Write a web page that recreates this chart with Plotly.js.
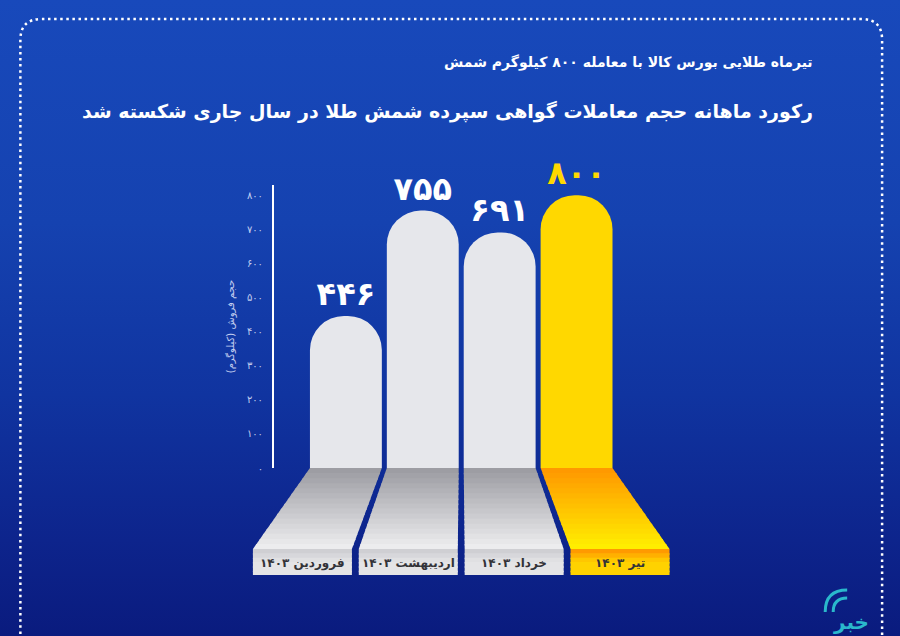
<!DOCTYPE html>
<html>
<head>
<meta charset="utf-8">
<script src="https://cdn.plot.ly/plotly-3.0.1.min.js"></script>
<style>
  html, body { margin: 0; padding: 0; }
  body {
    width: 900px; height: 636px; overflow: hidden;
    background: linear-gradient(180deg, #1849bb 0%, #1542b0 35%, #1034a0 62%, #0d248c 85%, #0a1b7e 100%);
  }
  #chart { width: 900px; height: 636px; }
</style>
</head>
<body>
<div id="chart"></div>
<script>
// ---- data ----
const months = ['فروردین', 'اردیبهشت', 'خرداد', 'تیر'];
const year = 1403;
const volumes = [446, 755, 691, 800];
const yTicks = [0, 100, 200, 300, 400, 500, 600, 700, 800];
const titleLine1 = 'تیرماه طلایی بورس کالا با معامله ۸۰۰ کیلوگرم شمش';
const titleLine2 = 'رکورد ماهانه حجم معاملات گواهی سپرده شمش طلا در سال جاری شکسته شد';
const yTitle = 'حجم فروش (کیلوگرم)\u200F';
const highlightIndex = 3;

// ---- helpers ----
const FA = '۰۱۲۳۴۵۶۷۸۹';
const fa = n => String(n).replace(/\d/g, d => FA[d]);
const FONT = 'DejaVu Sans, Noto Sans, sans-serif';

// ---- geometry ----
const W = 900, H = 636;
const ML = 274, MR = 284.5, MT = 185, MB = 168;
const PW = W - ML - MR, PH = H - MT - MB;
const BARW = 0.935;
const XR = [-0.935, 3.5];
const YR = [0, 830];
const pxPerUnit = PW / (XR[1] - XR[0]);
const catPx = i => ML + (i - XR[0]) * pxPerUnit;
const px2x = p => (p - ML) / PW;
const py2y = p => (H - MB - p) / PH;

const n = months.length;
const centers = months.map((_, i) => catPx(i));
const mid = centers.reduce((a, b) => a + b, 0) / n;
const halfBar = BARW * pxPerUnit / 2;
const persp = 1.377;
const baseY = H - MB;        // bar base (px)
const floorY = baseY + 81;   // bottom of floor trapezoid
const boxY2 = floorY + 26;   // bottom of label box

function lerpColor(a, b, t) {
  const pa = a.match(/\w\w/g).map(h => parseInt(h, 16));
  const pb = b.match(/\w\w/g).map(h => parseInt(h, 16));
  const c = pa.map((v, k) => Math.round(v + (pb[k] - v) * t));
  return 'rgb(' + c.join(',') + ')';
}

const shapes = [];
const annotations = [];
const STRIPS = 16;

months.forEach((m, i) => {
  const hi = i === highlightIndex;
  const cTop = centers[i];
  const cBot = mid + (cTop - mid) * persp;
  const hwTop = halfBar, hwBot = halfBar * persp;
  const c0 = hi ? 'ff9600' : '9a9aa0';
  const c1 = hi ? 'fff000' : 'efeff1';
  const span = floorY - baseY;
  const geo = t => ({ c: cTop + (cBot - cTop) * t, h: hwTop + (hwBot - hwTop) * t, y: baseY + span * t });
  for (let s = 0; s < STRIPS; s++) {
    const t0 = s / STRIPS;
    const t1 = Math.min(1, (s + 1) / STRIPS + 1.5 / span);
    const A = geo(t0), B = geo(t1);
    shapes.push({
      type: 'path', xref: 'paper', yref: 'paper', layer: 'below',
      path: `M ${px2x(A.c - A.h)} ${py2y(A.y)} L ${px2x(A.c + A.h)} ${py2y(A.y)} L ${px2x(B.c + B.h)} ${py2y(B.y)} L ${px2x(B.c - B.h)} ${py2y(B.y)} Z`,
      fillcolor: lerpColor(c0, c1, (s + 0.5) / STRIPS), line: { width: 0 }
    });
  }
  // label box
  const b0 = hi ? 'ff9a00' : 'cfcfd3';
  const b1 = hi ? 'ffd200' : 'e4e4e6';
  const BS = 6, bspan = boxY2 - floorY;
  for (let s = 0; s < BS; s++) {
    const ya = floorY + bspan * s / BS;
    const yb = floorY + Math.min(bspan, bspan * (s + 1) / BS + 1.5);
    shapes.push({
      type: 'rect', xref: 'paper', yref: 'paper', layer: 'below',
      x0: px2x(cBot - hwBot), x1: px2x(cBot + hwBot), y0: py2y(yb), y1: py2y(ya),
      fillcolor: lerpColor(b0, b1, Math.min(1, s / 2.5)), line: { width: 0 }
    });
  }
  annotations.push({
    xref: 'paper', yref: 'paper', x: px2x(cBot), y: py2y((floorY + boxY2) / 2 + 1),
    text: m + ' ' + fa(year), showarrow: false, xanchor: 'center', yanchor: 'middle',
    font: { family: FONT, size: 12, color: '#333338', weight: 'bold' }
  });
});

// dotted frame
const r = 21;
shapes.push({
  type: 'path', xref: 'paper', yref: 'paper', layer: 'below',
  path: `M ${px2x(20)} ${py2y(640)} L ${px2x(20)} ${py2y(19 + r)} Q ${px2x(20)} ${py2y(19)} ${px2x(20 + r)} ${py2y(19)} ` +
        `L ${px2x(883 - r)} ${py2y(19)} Q ${px2x(883)} ${py2y(19)} ${px2x(883)} ${py2y(19 + r)} L ${px2x(883)} ${py2y(640)}`,
  line: { color: '#ffffff', width: 2.5, dash: '2.5px,3.6px' }
});

// logo arcs
const lx = 848, ly = 612;
[22, 14].forEach(rad => {
  shapes.push({
    type: 'path', xref: 'paper', yref: 'paper',
    path: `M ${px2x(lx - rad)} ${py2y(ly)} Q ${px2x(lx - rad)} ${py2y(ly - rad)} ${px2x(lx)} ${py2y(ly - rad)}`,
    line: { color: '#2ab8cc', width: 3 }
  });
});
annotations.push({
  xref: 'paper', yref: 'paper', x: px2x(872), y: py2y(622), xanchor: 'right', yanchor: 'middle',
  text: 'خبر', showarrow: false, font: { family: FONT, size: 20, color: '#2ab8cc', weight: 'bold' }
});

// titles
annotations.push({
  xref: 'paper', yref: 'paper', x: px2x(816), y: py2y(62), xanchor: 'right', yanchor: 'middle',
  text: titleLine1, showarrow: false, font: { family: FONT, size: 14, color: '#ffffff', weight: 'bold' }
});
annotations.push({
  xref: 'paper', yref: 'paper', x: px2x(816), y: py2y(112), xanchor: 'right', yanchor: 'middle',
  text: titleLine2, showarrow: false, font: { family: FONT, size: 19, color: '#ffffff', weight: 'bold' }
});

const barColors = months.map((_, i) => i === highlightIndex ? '#ffd800' : '#e6e7eb');
const textColors = months.map((_, i) => i === highlightIndex ? '#ffd800' : '#ffffff');

const trace = {
  type: 'bar',
  x: months.map((_, i) => i),
  y: volumes,
  width: BARW,
  marker: { color: barColors, cornerradius: 34, line: { width: 0 } },
  text: volumes.map(fa),
  textposition: 'outside',
  constraintext: 'none',
  cliponaxis: false,
  textfont: { family: FONT, size: 32, color: textColors, weight: 'bold' },
  hoverinfo: 'skip'
};

const layout = {
  width: W, height: H,
  margin: { l: ML, r: MR, t: MT, b: MB, pad: 0 },
  paper_bgcolor: 'rgba(0,0,0,0)',
  plot_bgcolor: 'rgba(0,0,0,0)',
  showlegend: false,
  xaxis: { range: XR, showticklabels: false, showgrid: false, zeroline: false, showline: false, fixedrange: true },
  yaxis: {
    range: YR, showgrid: false, zeroline: false,
    showline: true, linecolor: '#ffffff', linewidth: 2,
    tickvals: yTicks, ticktext: yTicks.map(fa), ticks: '',
    ticklabelstandoff: 7,
    tickfont: { family: FONT, size: 10, color: 'rgba(225,232,255,0.85)' },
    title: { text: yTitle, standoff: 10, font: { family: FONT, size: 10, color: 'rgba(225,232,255,0.85)' } },
    fixedrange: true
  },
  shapes: shapes,
  annotations: annotations
};

Plotly.newPlot('chart', [trace], layout, { displayModeBar: false, staticPlot: true });
</script>
</body>
</html>
